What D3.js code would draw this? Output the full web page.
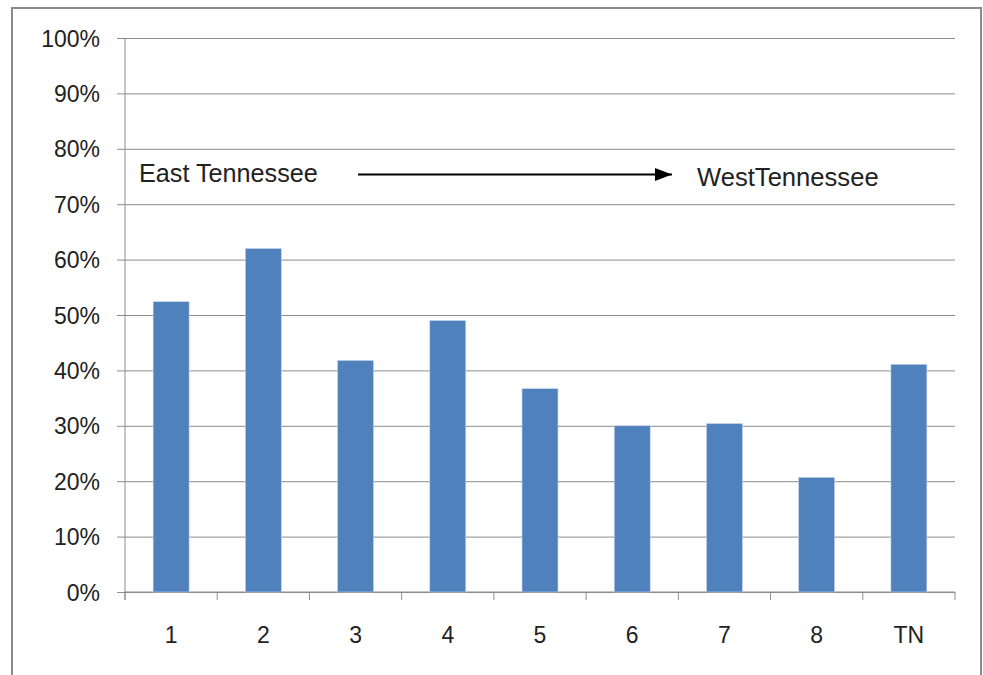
<!DOCTYPE html>
<html>
<head>
<meta charset="utf-8">
<script src="https://cdn.jsdelivr.net/npm/d3@7"></script>
<style>
  body { margin: 0; background: #fff; }
  svg text { font-family: "Liberation Sans", Arial, sans-serif; fill: #222; }
</style>
</head>
<body>
<div id="chart"></div>
<script>
/////////////////////////////////////////////////
/* Data */
/////////////////////////////////////////////////
const categories = ["1", "2", "3", "4", "5", "6", "7", "8", "TN"];
const shares = [52.4, 62.0, 41.8, 49.0, 36.7, 30.0, 30.4, 20.7, 41.1];
const yTicks = [0, 10, 20, 30, 40, 50, 60, 70, 80, 90, 100];
const leftLabel = "East Tennessee";
const rightLabel = "WestTennessee";

/////////////////////////////////////////////////
/* Layout */
/////////////////////////////////////////////////
const W = 983, H = 675;
const margin = {top: 38, right: 28, bottom: 83, left: 125},
    width = W - margin.left - margin.right,
    height = H - margin.top - margin.bottom;
const GRID = "#8c8c8c";
const BAR = "#4f81bd";

var svg = d3.select("#chart").append("svg")
    .attr("width", W)
    .attr("height", H);

// outer chart border
svg.append("rect")
    .attr("x", 12).attr("y", 8)
    .attr("width", 969).attr("height", 700)
    .attr("fill", "none")
    .attr("stroke", "#8a8a8a")
    .attr("stroke-width", 2);

var g = svg.append("g")
    .attr("transform", "translate(" + margin.left + "," + margin.top + ")");

// scales
var x = d3.scaleBand().domain(categories).range([0, width]).padding(0);
var y = d3.scaleLinear().domain([0, 100]).range([height, 0]);

// gridlines + y axis labels
var yAxis = d3.axisLeft(y)
    .tickValues(yTicks)
    .tickSize(-width)
    .tickFormat(d => d + "%");
var yg = g.append("g").call(yAxis);
yg.select(".domain").remove();
yg.selectAll(".tick line")
    .attr("x1", -8)
    .attr("stroke", GRID);
yg.selectAll(".tick text")
    .attr("x", -25)
    .attr("dy", "0.35em")
    .style("font-size", "23px");

// vertical axis line
g.append("line")
    .attr("x1", 0).attr("x2", 0)
    .attr("y1", 0).attr("y2", height + 8)
    .attr("stroke", GRID);

// x axis labels (ticks drawn separately between categories)
var xAxis = d3.axisBottom(x).tickSize(0);
var xg = g.append("g")
    .attr("transform", "translate(0," + height + ")")
    .call(xAxis);
xg.select(".domain").remove();
xg.selectAll(".tick text")
    .attr("y", 35)
    .attr("dy", "0.71em")
    .style("font-size", "23px");

g.append("line")
    .attr("x1", 0).attr("x2", width)
    .attr("y1", height).attr("y2", height)
    .attr("stroke", GRID);

var boundaries = d3.range(categories.length + 1).map(i => i * x.step());
g.selectAll(".xtick").data(boundaries).enter().append("line")
    .attr("class", "xtick")
    .attr("x1", d => d).attr("x2", d => d)
    .attr("y1", height).attr("y2", height + 8)
    .attr("stroke", GRID);

// bars
const barW = x.bandwidth() * 0.39;
g.selectAll(".bar").data(shares).enter().append("rect")
    .attr("class", "bar")
    .attr("x", (d, i) => x(categories[i]) + (x.bandwidth() - barW) / 2)
    .attr("y", d => y(d))
    .attr("width", barW)
    .attr("height", d => height - y(d))
    .attr("fill", BAR)
    .attr("stroke", "#c6d4e8")
    .attr("stroke-width", 0.6);

// annotation arrow
svg.append("defs").append("marker")
    .attr("id", "arrowhead")
    .attr("viewBox", "0 0 17 13")
    .attr("refX", 17).attr("refY", 6.5)
    .attr("markerWidth", 17).attr("markerHeight", 13)
    .attr("markerUnits", "userSpaceOnUse")
    .attr("preserveAspectRatio", "none")
    .attr("orient", "auto")
  .append("path")
    .attr("d", "M0,0 L17,6.5 L0,13 Z")
    .attr("fill", "#000");

svg.append("line")
    .attr("x1", 358).attr("x2", 672)
    .attr("y1", 174.5).attr("y2", 174.5)
    .attr("stroke", "#000")
    .attr("stroke-width", 2)
    .attr("marker-end", "url(#arrowhead)");

svg.append("text")
    .attr("x", 139).attr("y", 182)
    .style("font-size", "25.2px")
    .text(leftLabel);

svg.append("text")
    .attr("x", 697).attr("y", 186)
    .style("font-size", "25.6px")
    .text(rightLabel);
</script>
</body>
</html>
